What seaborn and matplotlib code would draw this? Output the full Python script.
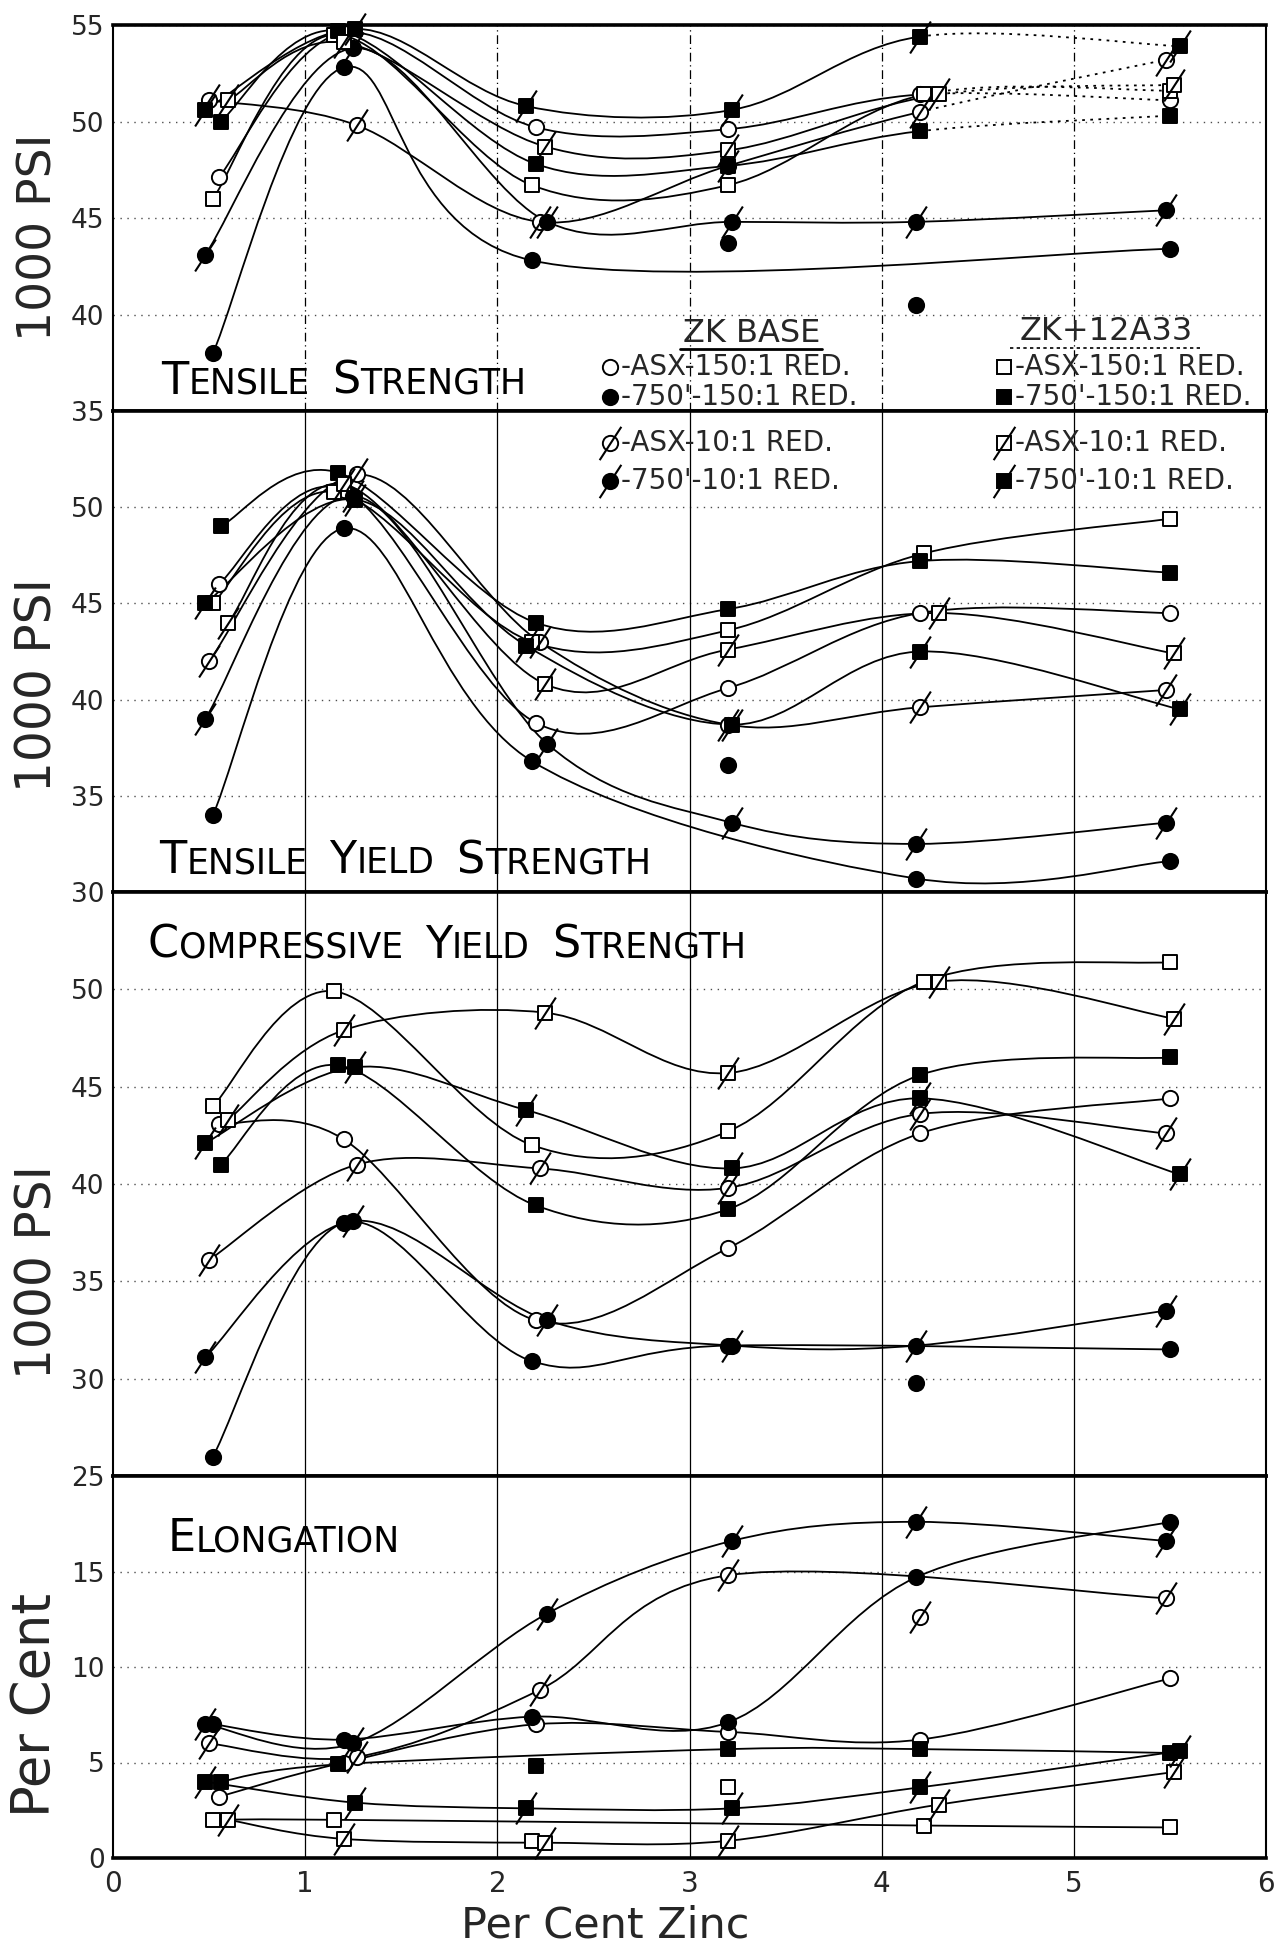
import numpy as np
import pandas as pd
import matplotlib
matplotlib.use("Agg")
import matplotlib.pyplot as plt
import seaborn as sns
from matplotlib.path import Path
from matplotlib.patches import PathPatch
from matplotlib.lines import Line2D
from matplotlib.offsetbox import TextArea, HPacker, AnchoredOffsetbox

# per cent zinc of every alloy series (ZK base / ZK + 12 A33)
zinc_zk_asx_150 = [0.55, 1.20, 2.20, 3.20, 4.20, 5.50]
zinc_zk_750_150 = [0.52, 1.20, 2.18, 3.20, 4.18, 5.50]
zinc_zk_asx_10 = [0.50, 1.27, 2.22, 3.20, 4.20, 5.48]
zinc_zk_750_10 = [0.48, 1.25, 2.26, 3.22, 4.18, 5.48]
zinc_12_asx_150 = [0.52, 1.15, 2.18, 3.20, 4.22, 5.50]
zinc_12_750_150 = [0.56, 1.17, 2.20, 3.20, 4.20, 5.50]
zinc_12_asx_10 = [0.60, 1.20, 2.25, 3.20, 4.30, 5.52]
zinc_12_750_10 = [0.48, 1.26, 2.15, 3.22, 4.20, 5.55]

# tensile strength, 1000 psi
ts_zk_asx_150 = [47.1, 54.6, 49.7, 49.6, 51.4, 51.1]
ts_zk_750_150 = [38.0, 52.8, 42.8, 43.7, 40.5, 43.4]
ts_zk_asx_10 = [51.1, 49.8, 44.8, 47.7, 50.5, 53.2]
ts_zk_750_10 = [43.1, 53.8, 44.8, 44.8, 44.8, 45.4]
ts_12_asx_150 = [46.0, 54.5, 46.7, 46.7, 51.4, 51.6]
ts_12_750_150 = [50.0, 54.7, 47.8, 47.7, 49.5, 50.3]
ts_12_asx_10 = [51.1, 54.1, 48.7, 48.5, 51.4, 51.9]
ts_12_750_10 = [50.6, 54.8, 50.8, 50.6, 54.4, 53.9]

# tensile yield strength, 1000 psi
tys_zk_asx_150 = [46.0, 50.9, 38.8, 40.6, 44.5, 44.5]
tys_zk_750_150 = [34.0, 48.9, 36.8, 36.6, 30.7, 31.6]
tys_zk_asx_10 = [42.0, 51.7, 43.0, 38.7, 39.6, 40.5]
tys_zk_750_10 = [39.0, 50.6, 37.7, 33.6, 32.5, 33.6]
tys_12_asx_150 = [45.0, 50.8, 43.0, 43.6, 47.6, 49.4]
tys_12_750_150 = [49.0, 51.8, 44.0, 44.7, 47.2, 46.6]
tys_12_asx_10 = [44.0, 51.2, 40.8, 42.6, 44.5, 42.4]
tys_12_750_10 = [45.0, 50.4, 42.8, 38.7, 42.5, 39.5]

# compressive yield strength, 1000 psi
cys_zk_asx_150 = [43.1, 42.3, 33.0, 36.7, 42.6, 44.4]
cys_zk_750_150 = [26.0, 38.0, 30.9, 31.7, 29.8, 31.5]
cys_zk_asx_10 = [36.1, 41.0, 40.8, 39.8, 43.6, 42.6]
cys_zk_750_10 = [31.1, 38.1, 33.0, 31.7, 31.7, 33.5]
cys_12_asx_150 = [44.0, 49.9, 42.0, 42.7, 50.4, 51.4]
cys_12_750_150 = [41.0, 46.1, 38.9, 38.7, 45.6, 46.5]
cys_12_asx_10 = [43.3, 47.9, 48.8, 45.7, 50.4, 48.5]
cys_12_750_10 = [42.1, 46.0, 43.8, 40.8, 44.4, 40.5]

# elongation, per cent
el_zk_asx_150 = [3.2, 5.0, 7.0, 6.6, 6.2, 9.4]
el_zk_750_150 = [7.0, 6.2, 7.4, 7.1, 14.7, 17.6]
el_zk_asx_10 = [6.0, 5.3, 8.8, 14.8, 12.6, 13.6]
el_zk_750_10 = [7.0, 6.0, 12.8, 16.6, 17.6, 16.6]
el_12_asx_150 = [2.0, 2.0, 0.9, 3.7, 1.7, 1.6]
el_12_750_150 = [4.0, 4.9, 4.8, 5.7, 5.7, 5.5]
el_12_asx_10 = [2.0, 1.0, 0.8, 0.9, 2.8, 4.5]
el_12_750_10 = [4.0, 2.9, 2.6, 2.6, 3.7, 5.6]

# points that the drawn curve does not pass through
off_curve = {
    ("ts", "zk_750_150"): [3, 4],
    ("tys", "zk_750_150"): [3],
    ("cys", "zk_750_150"): [4],
    ("el", "zk_asx_10"): [4],
    ("el", "12_asx_150"): [2, 3],
    ("el", "12_750_150"): [2],
}

series_keys = ["zk_asx_150", "zk_750_150", "zk_asx_10", "zk_750_10",
               "12_asx_150", "12_750_150", "12_asx_10", "12_750_10"]
g = globals()
rows = []
for p in ["ts", "tys", "cys", "el"]:
    for s in series_keys:
        for i, (xv, yv) in enumerate(zip(g["zinc_" + s], g[p + "_" + s])):
            rows.append((p, s, i, xv, yv))
df = pd.DataFrame(rows, columns=["panel", "series", "idx", "zinc", "value"])

# marker look of each series: (shape, face, slash)
look = {
    "zk_asx_150": ("o", "white", False),
    "zk_750_150": ("o", "black", False),
    "zk_asx_10": ("o", "white", True),
    "zk_750_10": ("o", "black", True),
    "12_asx_150": ("s", "white", False),
    "12_750_150": ("s", "black", False),
    "12_asx_10": ("s", "white", True),
    "12_750_10": ("s", "black", True),
}
slash = Path([(-0.65, -1.0), (0.65, 1.0)], [Path.MOVETO, Path.LINETO])

sns.set_theme(style="white")
plt.rcParams["font.family"] = ["DejaVu Sans"]

W, H = 1281, 1946
fig = plt.figure(figsize=(W / 100, H / 100), dpi=100)
gs = fig.add_gridspec(4, 1, height_ratios=[386, 481, 584, 382], hspace=0,
                      left=113 / W, right=1266 / W, top=1 - 25 / H, bottom=1 - 1858 / H)
axes = [fig.add_subplot(gs[i]) for i in range(4)]

panels = [
    dict(key="ts", ylim=(35, 55), yticks=[35, 40, 45, 50, 55], ylabel="1000 PSI", lab_y=0.45,
         lab_size=34, title=["Tensile", "Strength"], tpos=(0.042, 0.022)),
    dict(key="tys", ylim=(30, 55), yticks=[30, 35, 40, 45, 50], ylabel="1000 PSI", lab_y=0.43,
         lab_size=35, title=["Tensile", "Yield", "Strength"], tpos=(0.04, 0.02)),
    dict(key="cys", ylim=(25, 55), yticks=[25, 30, 35, 40, 45, 50], ylabel="1000 PSI", lab_y=0.35,
         lab_size=35, title=["Compressive", "Yield", "Strength"], tpos=(0.03, 0.872)),
    dict(key="el", ylim=(0, 20), yticks=[0, 5, 10, 15], ylabel="Per Cent", lab_y=0.40,
         lab_size=38, title=["Elongation"], tpos=(0.047, 0.78)),
]


def bezier_segments(xs, ys):
    pts = np.column_stack([xs, ys])
    ext = np.vstack([pts[0], pts, pts[-1]])
    segs = []
    for i in range(len(pts) - 1):
        p0, p1, p2, p3 = ext[i], ext[i + 1], ext[i + 2], ext[i + 3]
        segs.append((p1, p1 + (p2 - p0) / 6, p2 - (p3 - p1) / 6, p2))
    return segs


def draw_curve(ax, segs, ls="-"):
    if not segs:
        return
    verts = [segs[0][0]]
    codes = [Path.MOVETO]
    for _, c1, c2, end in segs:
        verts += [c1, c2, end]
        codes += [Path.CURVE4] * 3
    ax.add_patch(PathPatch(Path(verts, codes), fill=False, edgecolor="black",
                           lw=1.3, ls=ls, zorder=3))


def small_caps(ax, words, pos, big, small):
    parts = []
    for k, w in enumerate(words):
        if k:
            parts.append(TextArea("  ", textprops=dict(size=small)))
        parts.append(TextArea(w[0].upper(), textprops=dict(size=big, color="black")))
        parts.append(TextArea(w[1:].upper(), textprops=dict(size=small, color="black")))
    box = HPacker(children=parts, align="baseline", pad=0, sep=0)
    ab = AnchoredOffsetbox(loc="lower left", child=box, pad=0, borderpad=0, frameon=False,
                           bbox_to_anchor=pos, bbox_transform=ax.transAxes)
    ax.add_artist(ab)


for ax, cfg in zip(axes, panels):
    key = cfg["key"]
    sub = df[df["panel"] == key]
    for s in series_keys:
        d = sub[sub["series"] == s].sort_values("idx")
        on = d[~d["idx"].isin(off_curve.get((key, s), []))]
        segs = bezier_segments(on["zinc"].values, on["value"].values)
        if key == "ts" and s not in ("zk_750_10", "zk_750_150"):
            draw_curve(ax, segs[:-1])
            draw_curve(ax, segs[-1:], ls=(0, (1.5, 3)))
        else:
            draw_curve(ax, segs)
        shape, face, has_slash = look[s]
        sns.scatterplot(x=d["zinc"].values, y=d["value"].values, marker=shape,
                        s=120 if shape == "o" else 100, color=face, edgecolor="black",
                        linewidth=1.4, ax=ax, zorder=4, clip_on=False, legend=False)
        if has_slash:
            ax.plot(d["zinc"].values, d["value"].values, ls="none", marker=slash, ms=23,
                    mew=1.5, color="black", zorder=5, clip_on=False)

    ax.set_xlim(0, 6)
    ax.set_ylim(*cfg["ylim"])
    ax.set_yticks(cfg["yticks"])
    ax.set_xticks(range(7))
    ax.grid(axis="y", ls=(0, (1, 4)), color="0.3", lw=1.0)
    vls = (0, (7, 3, 1, 3)) if key == "ts" else "-"
    for v in range(1, 6):
        ax.axvline(v, color="black", lw=0.9, ls=vls, zorder=1)
    ax.tick_params(length=0, labelsize=19, pad=6)
    for side in ["left", "right"]:
        ax.spines[side].set_linewidth(1.5)
        ax.spines[side].set_color("black")
    for side in ["top", "bottom"]:
        ax.spines[side].set_linewidth(2.6)
        ax.spines[side].set_color("black")
    ax.set_ylabel(cfg["ylabel"], fontsize=cfg["lab_size"])
    ax.yaxis.set_label_coords(-0.045, cfg["lab_y"])
    if key != "el":
        ax.tick_params(labelbottom=False)
    ax.set_xlabel("")
    small_caps(ax, cfg["title"], cfg["tpos"], 32, 25)

axes[-1].tick_params(axis="x", labelsize=20, pad=9)
fig.text(605 / W, 1 - 1938 / H, "Per Cent Zinc", fontsize=31, ha="center", va="baseline")

# legend, drawn in figure pixels
def fx(px):
    return px / W


def fy(py):
    return 1 - py / H


fig.text(fx(752), fy(333), "ZK BASE", fontsize=23, ha="center", va="center")
fig.add_artist(Line2D([fx(680), fx(822)], [fy(349), fy(349)], color="black", lw=2))
fig.text(fx(1106), fy(331), "ZK+12A33", fontsize=23, ha="center", va="center")
fig.add_artist(Line2D([fx(1010), fx(1200)], [fy(348), fy(348)], color="black", lw=1.2,
                      ls=(0, (2, 2))))

legend_rows = [
    ("zk_asx_150", "-ASX-150:1 RED.", 610, 367),
    ("zk_750_150", "-750'-150:1 RED.", 610, 397),
    ("zk_asx_10", "-ASX-10:1 RED.", 610, 443),
    ("zk_750_10", "-750'-10:1 RED.", 610, 481),
    ("12_asx_150", "-ASX-150:1 RED.", 1004, 367),
    ("12_750_150", "-750'-150:1 RED.", 1004, 397),
    ("12_asx_10", "-ASX-10:1 RED.", 1004, 443),
    ("12_750_10", "-750'-10:1 RED.", 1004, 481),
]
for s, txt, px, py in legend_rows:
    shape, face, has_slash = look[s]
    fig.add_artist(Line2D([fx(px)], [fy(py)], ls="none", marker=shape, ms=11 if shape == "o" else 10,
                          mfc=face, mec="black", mew=1.4))
    if has_slash:
        fig.add_artist(Line2D([fx(px)], [fy(py)], ls="none", marker=slash, ms=24,
                              mew=1.5, color="black"))
    fig.text(fx(px + 11), fy(py), txt, fontsize=20, ha="left", va="center")

fig.savefig("out.png", dpi=100)
